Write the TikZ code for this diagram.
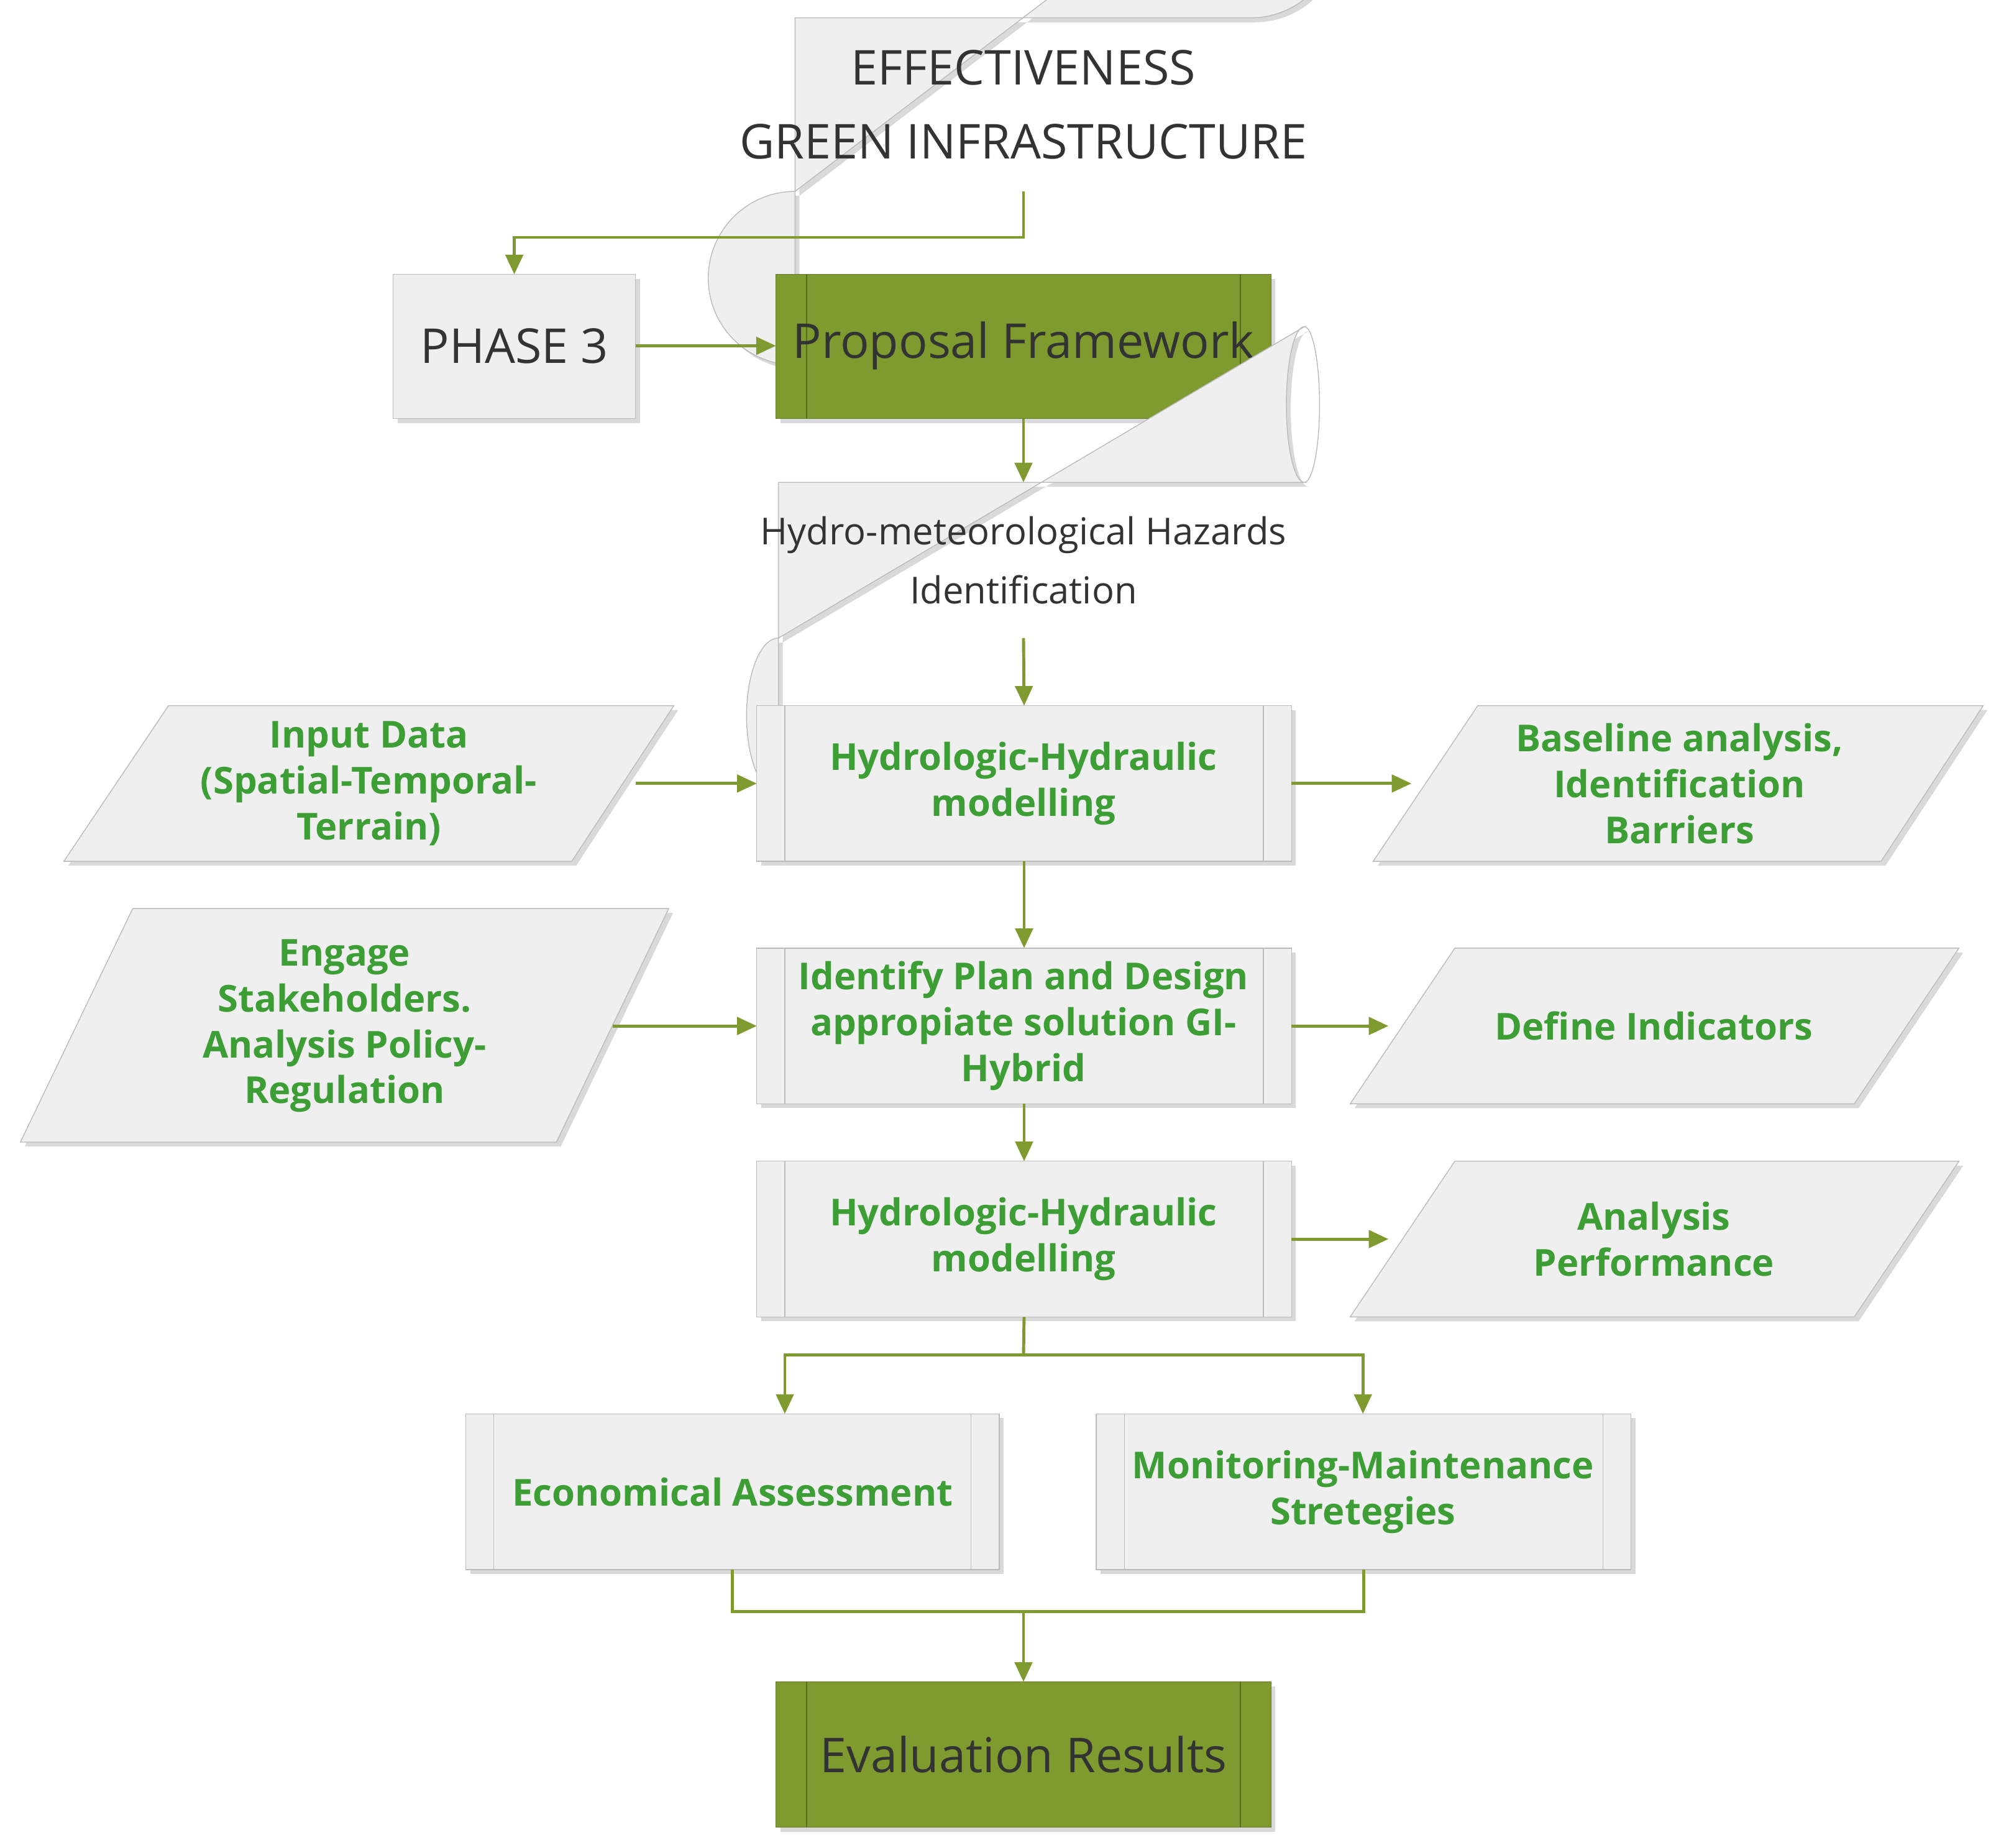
\documentclass[tikz,border=0pt]{standalone}
\usepackage{fontspec}
\setmainfont{Open Sans}
\usetikzlibrary{shadows,arrows.meta,calc}
\definecolor{olive}{HTML}{7F9A2E}
\definecolor{gtext}{HTML}{3C9E35}
\definecolor{boxfill}{HTML}{EFEFEF}
\definecolor{boxline}{HTML}{BBBBBB}
\begin{document}
\begin{tikzpicture}[x=0.02054cm,y=-0.02054cm,
  shd/.style={drop shadow={shadow xshift=2pt,shadow yshift=-2pt,opacity=0.3,fill=gray}},
  box/.style={draw=boxline,fill=boxfill,shd},
  gbox/.style={draw=olive!80!black,fill=olive,shd},
  gt/.style={text=gtext,font=\fontsize{17}{21}\selectfont\bfseries,align=center},
  dt/.style={text=black!80,align=center},
  arr/.style={draw=olive,line width=1.4pt,-{Triangle[length=9pt,width=8pt]}},
  ln/.style={draw=olive,line width=1.4pt}]
\useasboundingbox (0,0) rectangle (1568,1448);
% terminator
\draw[box] (623,14) -- (980,14) arc[start angle=90,end angle=-90,x radius=68,y radius=68] -- (623,150) arc[start angle=270,end angle=90,x radius=68,y radius=68] -- cycle;
\node[dt,font=\fontsize{22}{34}\selectfont] (term) at (802,82) {EFFECTIVENESS\\GREEN INFRASTRUCTURE};
\coordinate (termB) at (802,150);
% phase 3
\draw[box] (308,215) rectangle (498,328);
\node[dt,font=\fontsize{22}{26}\selectfont] (ph) at (403,271) {PHASE 3};
\coordinate (phT) at (403,215); \coordinate (phR) at (498,271);
% proposal
\draw[gbox] (608,215) rectangle (996,328);
\draw[olive!70!black] (632,215) -- (632,328) (972,215) -- (972,328);
\node[dt,font=\fontsize{22}{26}\selectfont] (prop) at (802,271) {Proposal Framework};
\coordinate (propL) at (608,271); \coordinate (propB) at (802,328);
% hazards stored data
\draw[box] (610,378) -- (1022,378) arc[start angle=90,end angle=270,x radius=14,y radius=61] -- (610,500) arc[start angle=270,end angle=90,x radius=25,y radius=61] -- cycle;
\draw[boxline] (1022,378) arc[start angle=90,end angle=-90,x radius=12,y radius=61];
\node[dt,font=\fontsize{17}{27}\selectfont] (haz) at (802,439) {Hydro-meteorological Hazards\\Identification};
\coordinate (hazT) at (802,378); \coordinate (hazB) at (802,500);
% predefined process boxes
\foreach \n/\xa/\ya/\xb/\yb in {hh1/593/553/1012/675, idp/593/743/1012/865, hh2/593/910/1012/1032, eco/365/1108/783/1230, mon/859/1108/1278/1230}{
  \draw[box] (\xa,\ya) rectangle (\xb,\yb);
  \draw[boxline] (\xa+22,\ya) -- (\xa+22,\yb) (\xb-22,\ya) -- (\xb-22,\yb);
  \coordinate (\n T) at ({(\xa+\xb)/2},\ya);
  \coordinate (\n B) at ({(\xa+\xb)/2},\yb);
  \coordinate (\n L) at (\xa,{(\ya+\yb)/2});
  \coordinate (\n R) at (\xb,{(\ya+\yb)/2});
}
\node[gt] (hh1) at (802,614) {Hydrologic-Hydraulic\\modelling};
\node[gt] (idp) at (802,804) {Identify Plan and Design\\appropiate solution GI-\\Hybrid};
\node[gt] (hh2) at (802,971) {Hydrologic-Hydraulic\\modelling};
\node[gt] (eco) at (574,1169) {Economical Assessment};
\node[gt] (mon) at (1068,1169) {Monitoring-Maintenance\\Stretegies};
% parallelograms
\draw[box] (132,553) -- (528,553) -- (448,675) -- (50,675) -- cycle;
\node[gt] (inp) at (289,614) {Input Data\\(Spatial-Temporal-\\Terrain)};
\coordinate (inpR) at (498,614);
\draw[box] (1158,553) -- (1554,553) -- (1474,675) -- (1076,675) -- cycle;
\node[gt] (base) at (1316,614) {Baseline analysis,\\Identification\\Barriers};
\coordinate (baseL) at (1106,614);
\draw[box] (104,712) -- (524,712) -- (436,895) -- (16,895) -- cycle;
\node[gt] (eng) at (270,804) {Engage\\Stakeholders.\\Analysis Policy-\\Regulation};
\coordinate (engR) at (480,804);
\draw[box] (1140,743) -- (1535,743) -- (1453,865) -- (1058,865) -- cycle;
\node[gt] (def) at (1296,804) {Define Indicators};
\coordinate (defL) at (1088,804);
\draw[box] (1140,910) -- (1535,910) -- (1453,1032) -- (1058,1032) -- cycle;
\node[gt] (ana) at (1296,971) {Analysis\\Performance};
\coordinate (anaL) at (1088,971);
% evaluation
\draw[gbox] (608,1318) rectangle (996,1432);
\draw[olive!70!black] (632,1318) -- (632,1432) (972,1318) -- (972,1432);
\node[dt,font=\fontsize{22}{26}\selectfont] (eva) at (802,1375) {Evaluation Results};
\coordinate (evaT) at (802,1318);
% connectors
\draw[arr] (termB) -- (802,186) -| (phT);
\draw[arr] (phR) -- (propL);
\draw[arr] (propB) -- (hazT);
\draw[arr] (hazB) -- (hh1T);
\draw[arr] (hh1B) -- (idpT);
\draw[arr] (idpB) -- (hh2T);
\draw[arr] (inpR) -- (hh1L);
\draw[arr] (hh1R) -- (baseL);
\draw[arr] (engR) -- (idpL);
\draw[arr] (idpR) -- (defL);
\draw[arr] (hh2R) -- (anaL);
\coordinate (split) at (802,1062);
\draw[ln] (hh2B) -- (split);
\draw[arr] (split) -| (615,1108);
\draw[arr] (split) -| (1068,1108);
\coordinate (join) at (802,1263);
\draw[ln] (ecoB) |- (join);
\draw[ln] (monB) |- (join);
\draw[arr] (join) -- (evaT);
\end{tikzpicture}
\end{document}
